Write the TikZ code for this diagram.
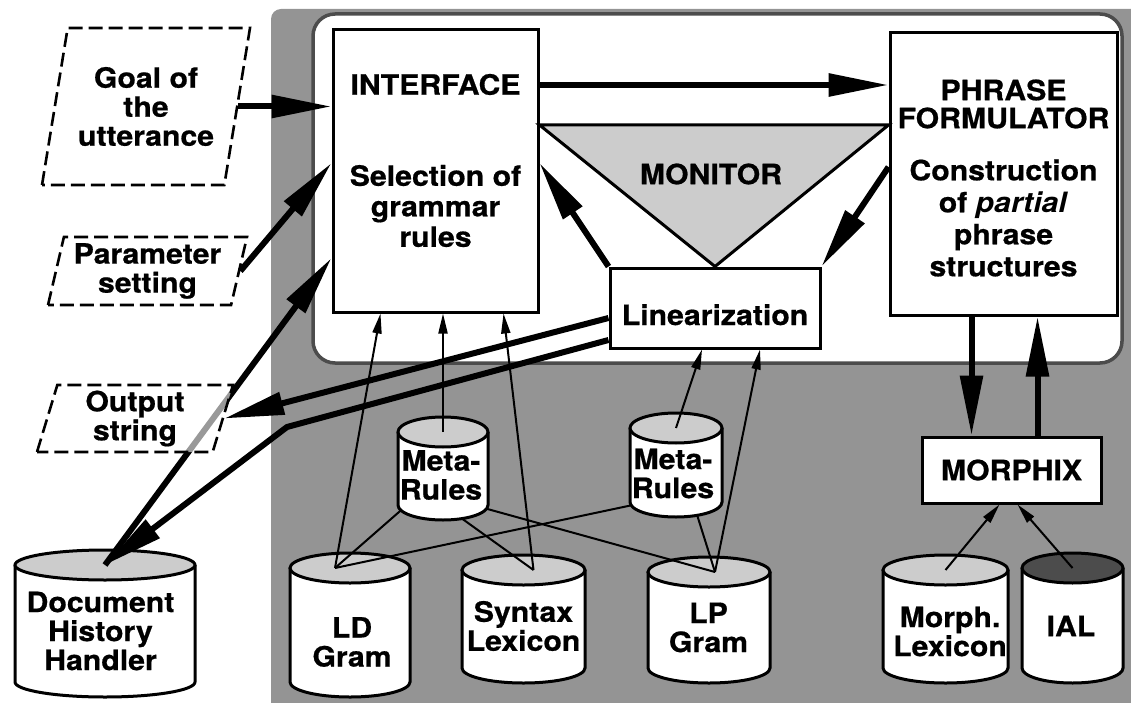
\documentclass[tikz,border=0pt]{standalone}
\usepackage{fontspec}
\setmainfont{TeX Gyre Heros}[FakeStretch=1.08, BoldFeatures={FakeBold=0.6}]
\usetikzlibrary{arrows.meta,shapes.geometric}
\definecolor{bggray}{gray}{0.58}
\definecolor{lidgray}{gray}{0.8}
\definecolor{ialgray}{gray}{0.3}
\tikzset{
    box/.style={draw, line width=3pt, fill=white, inner sep=0pt},
    dashbox/.style={draw, trapezium, trapezium stretches body, line width=2.6pt,
        dash pattern=on 14pt off 6pt},
    bigarrow/.style={line width=6pt, -{Triangle[length=60pt,width=22pt]}},
    thinarrow/.style={line width=2pt, -{Triangle[length=20pt,width=9pt]}},
    thinline/.style={line width=2pt},
    drumline/.style={line width=3pt}
}
% drum: name, centre x, top y, width, height, fill of the lid
\newcommand{\drumshape}[6]{%
    \filldraw[drumline, fill=white] ({#2-#4/2},{#3+15}) -- ({#2-#4/2},{#3+#5-15})
        arc[start angle=180, end angle=0, x radius={#4/2}, y radius=15]
        -- ({#2+#4/2},{#3+15});
    \filldraw[drumline, fill=#6] (#2,{#3+15}) ellipse[x radius={#4/2}, y radius=15];
    \coordinate (#1-top) at (#2,{#3+15});
    \coordinate (#1-bot) at (#2,{#3+#5-15});
}
\begin{document}
\begin{tikzpicture}[x=1pt, y=-1pt, font=\bfseries\fontsize{28}{29}\selectfont,
    every node/.style={align=center, inner sep=0pt}]
    \useasboundingbox (0,0) rectangle (1131,703);
    % background
    \fill[bggray, rounded corners=10pt] (271,9) rectangle (1160,730);
    \filldraw[fill=white, draw=black!70, line width=3.5pt, rounded corners=22pt] (313,14) rectangle (1122,363);

    % boxes
    \node[box, minimum width=205pt, minimum height=282pt] (interface) at (435.5,171) {};
    \node[box, minimum width=227pt, minimum height=282pt] (phrase) at (1003.5,174) {};
    \node[box, minimum width=210pt, text height=57pt, text depth=23pt] (lin) at (715,308) {Linearization};
    \node[box, minimum width=179pt, minimum height=66pt] (morphix) at (1011.5,470) {MORPHIX};
    \node (iftitle) at (435.5,84.5) {INTERFACE};
    \node (iftext) at (435.5,206) {Selection of\\[1.5pt]grammar\\[1.5pt]rules};
    \node (pftitle) at (1003.5,104) {PHRASE\\[-1pt]FORMULATOR};
    \node (pftext) at (1003.5,218) {Construction\\[3pt]of \textit{partial}\\[3pt]phrase\\[3pt]structures};

    \coordinate (montop) at (713,125);
    \filldraw[fill=lidgray, line width=3pt] (interface.east |- montop) -- (phrase.west |- montop) -- (lin.north) -- cycle;
    \node (monitor) at (711,174) {MONITOR};

    \node[dashbox, trapezium left angle=72, trapezium right angle=108,
        minimum width=208pt, minimum height=157pt] (goal) at (146,106.5) {Goal of\\the\\utterance};
    \node[dashbox, trapezium left angle=74, trapezium right angle=106,
        minimum width=199pt, minimum height=68pt] (param) at (147.5,271) {Parameter\\setting};

    % data bases
    \drumshape{dhh}{105}{550}{180}{147}{lidgray}
    \drumshape{ldg}{350}{553}{120}{144}{lidgray}
    \drumshape{syn}{523.5}{555}{123}{128}{lidgray}
    \drumshape{lpg}{709}{557}{122}{126}{lidgray}
    \drumshape{mlx}{945.5}{555}{125}{128}{lidgray}
    \drumshape{ial}{1072.5}{553}{101}{130}{ialgray}
    \coordinate (mra-bot) at (443,505);
    \coordinate (mrb-bot) at (676,502);
    \draw[thinline] ([xshift=-15pt]ldg-top) -- ([xshift=-36pt]mra-bot);
    \draw[thinline] ([xshift=-15pt]ldg-top) -- ([xshift=-29pt]mrb-bot);
    \draw[thinline] ([xshift=10pt]syn-top) -- (mra-bot);
    \draw[thinline] ([xshift=6pt]lpg-top) -- ([xshift=30pt]mra-bot);
    \draw[thinline] ([xshift=6pt]lpg-top) -- ([xshift=17pt]mrb-bot);
    \drumshape{mra}{443}{417}{90}{103}{lidgray}
    \drumshape{mrb}{676}{413}{92}{104}{lidgray}
    \node (dhh) at (100.5,631) {Document\\History\\Handler};
    \node (ldg) at (352,642) {LD\\Gram};
    \node (syn) at (523.5,626) {Syntax\\Lexicon};
    \node (lpg) at (708.5,627.5) {LP\\Gram};
    \node (mra) at (441,475) {Meta-\\Rules};
    \node (mrb) at (673,473.5) {Meta-\\Rules};
    \node (mlx) at (950,631.5) {Morph.\\Lexicon};
    \node (ial) at (1071,626) {IAL};

    % thick arrows
    \draw[bigarrow] (goal.east) -- (goal.east -| interface.west);
    \draw[bigarrow] (param.east) -- ([yshift=8pt]interface.west);
    \coordinate (ifout) at ([yshift=86pt]interface.east);
    \draw[bigarrow] (ifout) -- (ifout -| phrase.west);
    \draw[bigarrow] (lin.north west) -- ([yshift=8pt]interface.east);
    \draw[bigarrow] ([yshift=7pt]phrase.west) -- (lin.north east);
    \coordinate (pfdown) at ([xshift=-32pt]phrase.south);
    \coordinate (pfup) at ([xshift=34pt]phrase.south);
    \draw[bigarrow] (pfdown) -- (pfdown |- morphix.north);
    \draw[bigarrow] (pfup |- morphix.north) -- (pfup);
    \draw[bigarrow] (dhh-top) -- ([yshift=-87pt]interface.west);
    \coordinate (bend) at (287,427);
    \draw[bigarrow, line join=round] ([yshift=-32pt]lin.west) -- (bend) -- (dhh-top);
    \node[dashbox, fill=white, fill opacity=0.6, text opacity=1,
        trapezium left angle=70, trapezium right angle=110,
        minimum width=196pt, minimum height=67pt] (output) at (135,418.5) {Output\\string};
    \draw[bigarrow] ([yshift=-10pt]lin.west) -- (output.east);

    % thin arrows
    \draw[thinarrow] ([xshift=-15pt]ldg-top) -- ([xshift=-55pt]interface.south);
    \draw[thinarrow] (mra-top) -- (mra-top |- interface.south);
    \draw[thinarrow] ([xshift=10pt]syn-top) -- ([xshift=68pt]interface.south);
    \draw[thinarrow] (mrb-top) -- ([xshift=-13pt]lin.south);
    \draw[thinarrow] ([xshift=6pt]lpg-top) -- ([xshift=45pt]lin.south);
    \draw[thinarrow] (mlx-top) -- ([xshift=-12pt]morphix.south);
    \draw[thinarrow] (ial-top) -- ([xshift=6pt]morphix.south);
\end{tikzpicture}
\end{document}
